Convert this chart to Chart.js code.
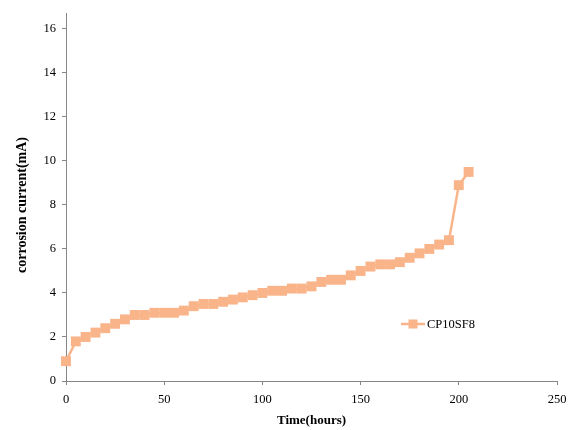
<!DOCTYPE html>
<html>
<head>
<meta charset="utf-8">
<script src="https://cdn.jsdelivr.net/npm/chart.js@4.4.1/dist/chart.umd.min.js"></script>
<style>
  html, body { margin: 0; padding: 0; background: #fff; }
  #wrap { width: 580px; height: 430px; position: relative; }
</style>
</head>
<body>
<div id="wrap"><canvas id="c" width="580" height="430"></canvas></div>
<script>
const seriesName = "CP10SF8";
const timeHours = [0,5,10,15,20,25,30,35,40,45,50,55,60,65,70,75,80,85,90,95,100,105,110,115,120,125,130,135,140,145,150,155,160,165,170,175,180,185,190,195,200,205];
const currentMA = [0.9,1.8,2.0,2.2,2.4,2.6,2.8,3.0,3.0,3.1,3.1,3.1,3.2,3.4,3.5,3.5,3.6,3.7,3.8,3.9,4.0,4.1,4.1,4.2,4.2,4.3,4.5,4.6,4.6,4.8,5.0,5.2,5.3,5.3,5.4,5.6,5.8,6.0,6.2,6.4,8.9,9.5];
const xTitle = "Time(hours)";
const yTitle = "corrosion current(mA)";

const COLOR = "#F9B48A";
const AXIS = "#868686";
const FONT = "'Liberation Serif', 'Times New Roman', serif";

const points = timeHours.map((t, i) => ({ x: t, y: currentMA[i] }));

const customPlugin = {
  id: 'custom',
  afterDraw(chart) {
    const ctx = chart.ctx;
    // y-axis title
    ctx.save();
    ctx.translate(22, 205);
    ctx.rotate(-Math.PI / 2);
    ctx.font = "bold 14px " + FONT;
    ctx.fillStyle = "#000";
    ctx.textAlign = "center";
    ctx.textBaseline = "middle";
    ctx.fillText(yTitle, 0, 0);
    ctx.restore();
    // legend
    const ds = chart.data.datasets[0];
    const lx = 401, ly = 324;
    ctx.save();
    ctx.strokeStyle = ds.borderColor;
    ctx.lineWidth = 2.5;
    ctx.beginPath();
    ctx.moveTo(lx, ly);
    ctx.lineTo(lx + 24, ly);
    ctx.stroke();
    ctx.fillStyle = ds.backgroundColor;
    ctx.fillRect(lx + 12 - 4.5, ly - 4.5, 9, 9);
    ctx.fillStyle = "#000";
    ctx.font = "12.5px " + FONT;
    ctx.textAlign = "left";
    ctx.textBaseline = "middle";
    ctx.fillText(ds.label, lx + 26, ly + 1);
    ctx.restore();
  }
};

new Chart(document.getElementById('c'), {
  type: 'scatter',
  data: {
    datasets: [{
      label: seriesName,
      data: points,
      showLine: true,
      clip: false,
      borderColor: COLOR,
      backgroundColor: COLOR,
      borderWidth: 2.5,
      pointStyle: 'rect',
      pointRadius: 7,
      pointHoverRadius: 7,
      pointBorderWidth: 0,
      tension: 0
    }]
  },
  options: {
    responsive: false,
    animation: false,
    events: [],
    layout: { padding: { top: 7, right: 23, left: 0, bottom: 0 } },
    plugins: {
      legend: { display: false },
      tooltip: { enabled: false }
    },
    scales: {
      x: {
        type: 'linear',
        min: 0,
        max: 250,
        ticks: {
          stepSize: 50,
          color: '#000',
          font: { family: FONT, size: 12.5 },
          padding: 7,
          maxRotation: 0
        },
        grid: { drawOnChartArea: false, drawTicks: true, tickLength: 4, color: AXIS, lineWidth: 1 },
        border: { color: AXIS, width: 1 },
        title: {
          display: true,
          text: xTitle,
          color: '#000',
          font: { family: FONT, size: 13, weight: 'bold' },
          padding: { top: 6, bottom: 2 }
        },
        afterFit(scale) { scale.height = 49; }
      },
      y: {
        type: 'linear',
        min: 0,
        max: 16.7,
        ticks: {
          stepSize: 2,
          color: '#000',
          font: { family: FONT, size: 12.5 },
          padding: 6
        },
        afterBuildTicks(scale) {
          scale.ticks = scale.ticks.filter(t => Math.abs(t.value / 2 - Math.round(t.value / 2)) < 1e-9);
        },
        grid: { drawOnChartArea: false, drawTicks: true, tickLength: 4, color: AXIS, lineWidth: 1 },
        border: { color: AXIS, width: 1 },
        afterFit(scale) { scale.width = 66; }
      }
    }
  },
  plugins: [customPlugin]
});
</script>
</body>
</html>
